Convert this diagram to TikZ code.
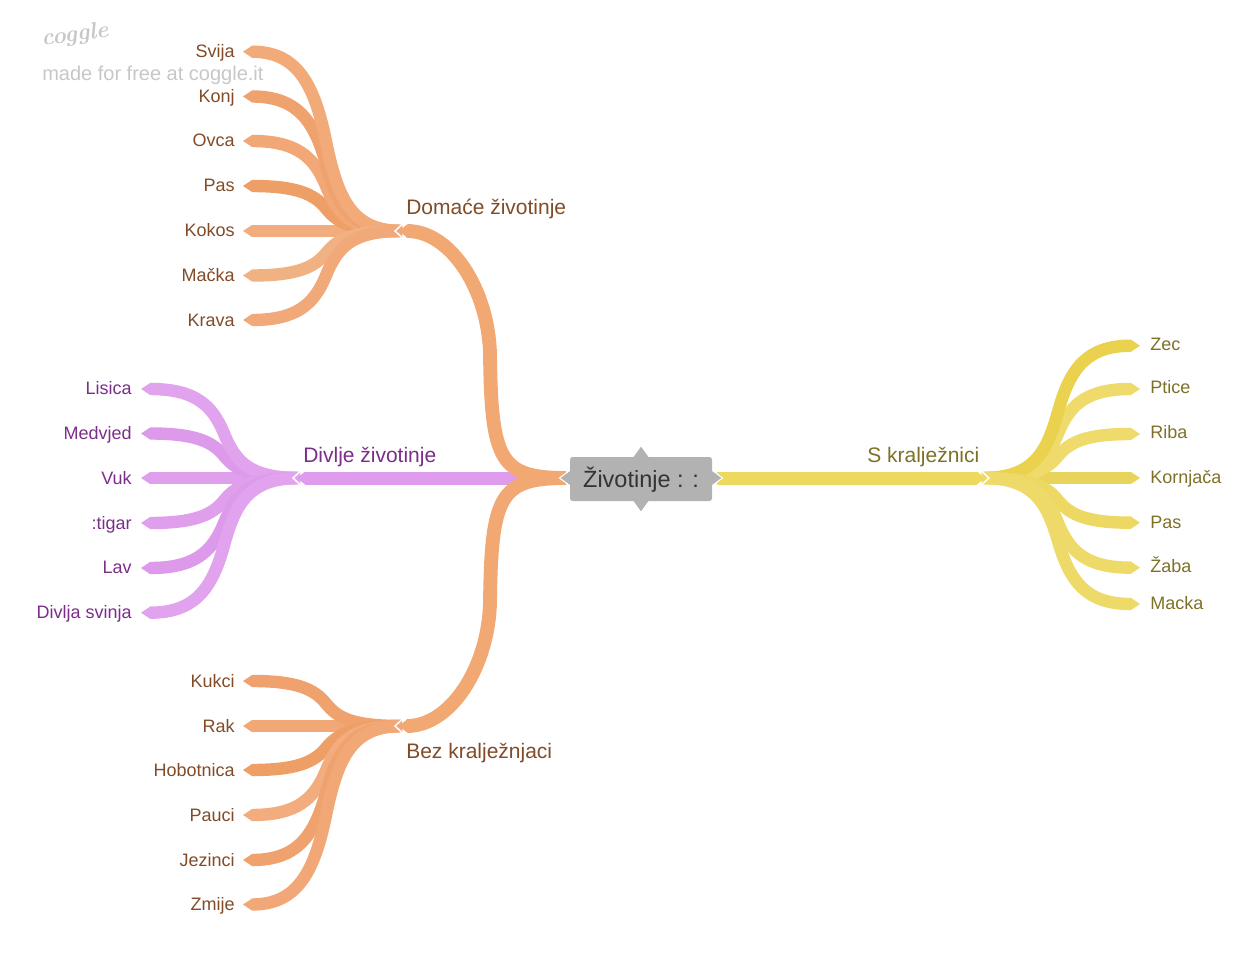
\documentclass[tikz,border=0pt]{standalone}
\usepackage{fontspec}
\setmainfont{Liberation Sans}
\newfontfamily\logofont{Latin Modern Roman}
\usetikzlibrary{calc}
\definecolor{obr}{HTML}{F2A873}
\definecolor{pbr}{HTML}{E09CEC}
\definecolor{ybr}{HTML}{EDD960}
\definecolor{otx}{HTML}{814B27}
\definecolor{ptx}{HTML}{7B2D8A}
\definecolor{ytx}{HTML}{7D7127}
\definecolor{o1}{HTML}{F2AA78}\definecolor{o2}{HTML}{EFA26D}\definecolor{o3}{HTML}{F1A876}
\definecolor{o4}{HTML}{EE9F66}\definecolor{o5}{HTML}{F2AC7D}\definecolor{o6}{HTML}{F1B283}\definecolor{o7}{HTML}{F1A97A}
\definecolor{p1}{HTML}{E2A3EE}\definecolor{p2}{HTML}{DE9AEA}\definecolor{p3}{HTML}{E09FEC}
\definecolor{y1}{HTML}{EAD24F}\definecolor{y2}{HTML}{EFDA6C}\definecolor{y3}{HTML}{E9D45B}\definecolor{y4}{HTML}{ECD863}\definecolor{y5}{HTML}{EEDA69}
\tikzset{
  x=0.75pt,y=-0.75pt,
  leaflab/.style={inner sep=0pt,font=\fontsize{13.5pt}{16pt}\selectfont},
  midlab/.style={inner sep=0pt,anchor=base west,font=\fontsize{15.75pt}{18pt}\selectfont},
}
% #1 hub, #2 leaf shoulder, #3 colour, #4 direction, #5 width, #6 mid-tangent x offset,
% #7 hub-side tangent factor, #8 leaf-side tangent factor, #9 hub handle
\newcommand\curvebr[9]{%
  \draw[#3,line width=#5] let \p1=(#1),\p2=(#2),
     \n1={0.5*(\y1+\y2)},\n3={\x1+(#4)*57pt} in
     (\x1,\y1) .. controls ({\x1+(#4)*#9},\y1) and ({\n3-(#4)*#6},{\n1-#7*(\y2-\y1)}) ..
     ({\n3},{\n1}) .. controls ({\n3+(#4)*#6},{\n1+#8*(\y2-\y1)}) and ({\x2-(#4)*33pt},\y2) .. (\x2,\y2);
}
\newcommand\leaftip[3]{%
  \fill[#2] ($(#1)+(0,-6)$) -- ($(#1)+(#3*9,0)$) -- ($(#1)+(0,6)$) -- cycle;
}
\newcommand\leafbr[4]{\curvebr{#1}{#2}{#3}{#4}{9.3pt}{9pt}{0.33}{0.33}{37pt}\leaftip{#2}{#3}{#4}}
\newcommand\mainbr[2]{\curvebr{#1}{#2}{obr}{-1}{10.4pt}{1pt}{0.43}{0.26}{49.5pt}}
\newcommand\maintip[3]{%
  \fill[#2] ($(#1)+(0,-6.5)$) -- ($(#1)+(#3*8,0)$) -- ($(#1)+(0,6.5)$) -- cycle;
  \draw[white,line width=1.1pt] ($(#1)+(#3*5,-6.5)$) -- ($(#1)+(#3*12,0)$) -- ($(#1)+(#3*5,6.5)$);
}
\begin{document}
\begin{tikzpicture}
\useasboundingbox (0,0) rectangle (1260,962);
\coordinate (hubC) at (566,478);
\coordinate (hubR) at (717,478);
\coordinate (hubD) at (402,231);
\coordinate (shD) at (407,231);
\coordinate (hubB) at (402,726);
\coordinate (shB) at (407,726);
\coordinate (hubP) at (300,478);
\coordinate (shP) at (305,478);
\coordinate (hubY) at (982,478);
\coordinate (shY) at (977,478);
\coordinate (pStart) at (545,478);
\foreach \n/\yy in {a/51.7,b/96.5,c/141,d/186,e/231,f/275.5,g/320}{\coordinate (D\n) at (252,\yy);}
\foreach \n/\yy in {a/681,b/726,c/770,d/815,e/860,f/904.5}{\coordinate (B\n) at (252,\yy);}
\foreach \n/\yy in {a/389,b/433.5,c/478,d/523,e/568,f/612.7}{\coordinate (P\n) at (150,\yy);}
\foreach \n/\yy in {a/345.7,b/389,c/434,d/478,e/522.7,f/567.7,g/604}{\coordinate (Y\n) at (1131,\yy);}
\leafbr{hubD}{De}{o5}{-1}
\leafbr{hubD}{Dd}{o4}{-1}
\leafbr{hubD}{Dc}{o3}{-1}
\leafbr{hubD}{Db}{o2}{-1}
\leafbr{hubD}{Da}{o1}{-1}
\leafbr{hubD}{Df}{o6}{-1}
\leafbr{hubD}{Dg}{o7}{-1}
\leafbr{hubB}{Bb}{o3}{-1}
\leafbr{hubB}{Ba}{o2}{-1}
\leafbr{hubB}{Bc}{o4}{-1}
\leafbr{hubB}{Bd}{o5}{-1}
\leafbr{hubB}{Be}{o2}{-1}
\leafbr{hubB}{Bf}{o3}{-1}
\leafbr{hubP}{Pc}{p3}{-1}
\leafbr{hubP}{Pb}{p2}{-1}
\leafbr{hubP}{Pa}{p1}{-1}
\leafbr{hubP}{Pd}{p3}{-1}
\leafbr{hubP}{Pe}{p2}{-1}
\leafbr{hubP}{Pf}{p1}{-1}
\leafbr{hubY}{Yd}{y3}{1}
\leafbr{hubY}{Yc}{y2}{1}
\leafbr{hubY}{Yb}{y2}{1}
\leafbr{hubY}{Ya}{y1}{1}
\leafbr{hubY}{Ye}{y4}{1}
\leafbr{hubY}{Yf}{y5}{1}
\leafbr{hubY}{Yg}{y5}{1}
\draw[pbr,line width=9.75pt] (pStart) -- (shP);
\maintip{shP}{pbr}{-1}
\draw[ybr,line width=9.75pt] (hubR) -- (shY);
\maintip{shY}{ybr}{1}
\mainbr{hubC}{shD}
\maintip{shD}{obr}{-1}
\mainbr{hubC}{shB}
\maintip{shB}{obr}{-1}
\coordinate (cc) at (641,479);
\begin{scope}[fill=black!30,draw=white,line width=0.8pt,line join=miter]
\filldraw ($(cc)+(-9,-21)$) -- ($(cc)+(0,-33.5)$) -- ($(cc)+(9,-21)$) -- cycle;
\filldraw ($(cc)+(-9,21)$) -- ($(cc)+(0,33.5)$) -- ($(cc)+(9,21)$) -- cycle;
\filldraw ($(cc)+(-70,-9.5)$) -- ($(cc)+(-81.5,-1)$) -- ($(cc)+(-70,7.5)$) -- cycle;
\filldraw ($(cc)+(70,-9.5)$) -- ($(cc)+(81.5,-1)$) -- ($(cc)+(70,7.5)$) -- cycle;
\end{scope}
\node[fill=black!30,rounded corners=2pt,inner sep=0pt,minimum width=106.5pt,
  text height=22.5pt,text depth=10.5pt,text=black!80,
  font=\fontsize{17.6pt}{20pt}\selectfont] (centre) at (cc) {Životinje : :};
\node[midlab,text=otx] (lD) at (406,215) {Domaće životinje};
\node[midlab,text=otx] (lB) at (406,758) {Bez kralježnjaci};
\node[midlab,text=ptx] (lP) at (303,462) {Divlje životinje};
\node[midlab,text=ytx] (lY) at (867,462) {S kralježnici};
\foreach \n/\yy/\t in {a/58/Svija,b/103/Konj,c/146.5/Ovca,d/192/Pas,e/237/Kokos,f/282/Mačka,g/327/Krava}
   {\node[leaflab,anchor=base east,text=otx] (tD\n) at (235,\yy) {\t};}
\foreach \n/\yy/\t in {a/687/Kukci,b/732/Rak,c/776/Hobotnica,d/821/Pauci,e/866/Jezinci,f/910/Zmije}
   {\node[leaflab,anchor=base east,text=otx] (tB\n) at (235,\yy) {\t};}
\foreach \n/\yy/\t in {a/395/Lisica,b/440/Medvjed,c/484/Vuk,d/529/:tigar,e/573/Lav,f/618/Divlja svinja}
   {\node[leaflab,anchor=base east,text=ptx] (tP\n) at (132,\yy) {\t};}
\foreach \n/\yy/\t in {a/351/Zec,b/393/Ptice,c/438/Riba,d/483/Kornjača,e/528/Pas,f/572/Žaba,g/609/Macka}
   {\node[leaflab,anchor=base west,text=ytx] (tY\n) at (1150,\yy) {\t};}
\node[inner sep=0pt,anchor=base west,text=black!22,rotate=8,
  font=\logofont\itshape\bfseries\fontsize{17.5pt}{18pt}\selectfont] (logo) at (42,46) {coggle};
\node[inner sep=0pt,anchor=base west,text=black!22,
  font=\fontsize{15pt}{18pt}\selectfont] (wm) at (42,81) {made for free at coggle.it};
\end{tikzpicture}
\end{document}
